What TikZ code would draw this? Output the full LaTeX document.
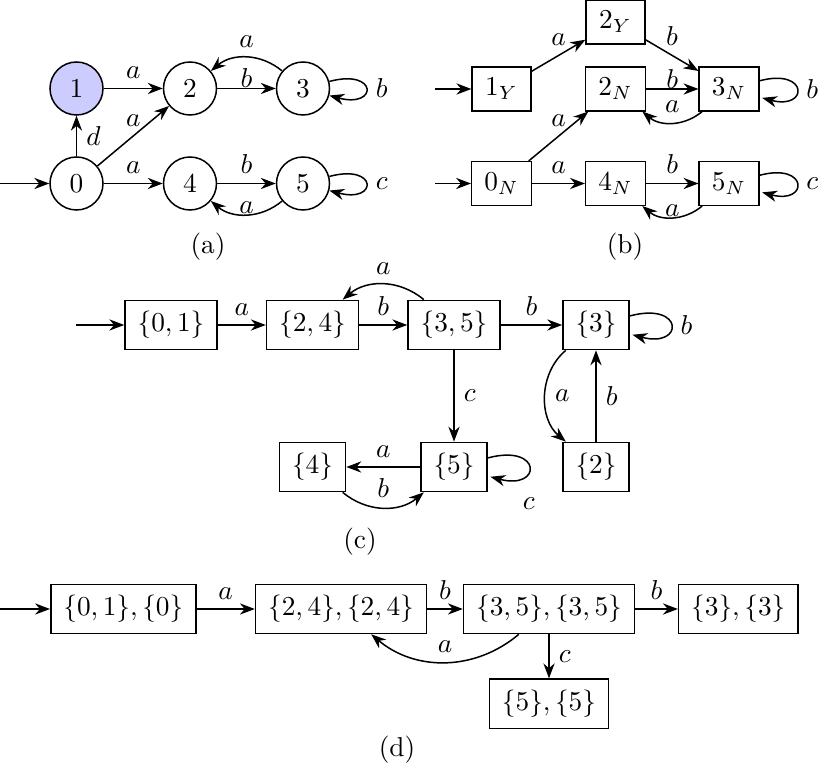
\documentclass[tikz,border=0pt]{standalone}
\usetikzlibrary{arrows.meta}
\colorlet{marked area}{blue!20}
\tikzset{circ/.style={circle, draw, minimum size=19.4pt, inner sep=0pt},
	marked/.style={circ, fill=marked area},
	box/.style={rectangle, draw, inner xsep=4.6pt, inner ysep=4pt, minimum width=21.5pt},
	tight/.style={above, inner sep=0pt},
	wide loop/.style={loop right, min distance=6.5mm}}

\begin{document}
\begin{tikzpicture}[x=0.366pt, y=-0.366pt, >=Stealth, line width=0.55pt]
		\useasboundingbox (0,0) rectangle (831,776);
		\node[circ] (a0) at (76.5,183.5) {$0$};
		\node[marked] (a1) at (76.5,88.5) {$1$};
		\node[circ] (a2) at (190,88.5) {$2$};
		\node[circ] (a3) at (303,88.5) {$3$};
		\node[circ] (a4) at (190,183.5) {$4$};
		\node[circ] (a5) at (303,183.5) {$5$};
		\coordinate (a in) at (0,183.5);
		\draw[->] (a in) -- (a0);
		\path[->] (a0) edge node[right] {$d$} (a1)
			(a0) edge node[above] {$a$} (a2)
			(a0) edge node[above] {$a$} (a4)
			(a1) edge node[above] {$a$} (a2)
			(a2) edge node[tight] {$b$} (a3)
			(a3) edge[bend right=40] node[above] {$a$} (a2)
			(a3) edge[wide loop] node[right] {$b$} (a3)
			(a4) edge node[above] {$b$} (a5)
			(a5) edge[bend left=40] node[tight] {$a$} (a4)
			(a5) edge[wide loop] node[right] {$c$} (a5);
		\node (cap a) at (208,247) {(a)};
		
		\node[box] (b1Y) at (501.5,89) {$1_Y$};
		\node[box] (b2Y) at (615.5,22) {$2_Y$};
		\node[box] (b2N) at (615.5,89) {$2_N$};
		\node[box] (b3N) at (729,89) {$3_N$};
		\node[box] (b0N) at (501.5,183.5) {$0_N$};
		\node[box] (b4N) at (615.5,183.5) {$4_N$};
		\node[box] (b5N) at (729,183.5) {$5_N$};
		\coordinate (b in1) at (435,89);
		\coordinate (b in0) at (435,183.5);
		\draw[->] (b in1) -- (b1Y);
		\draw[->] (b in0) -- (b0N);
		\path[->] (b1Y) edge node[above] {$a$} (b2Y)
			(b2Y) edge node[above] {$b$} (b3N)
			(b2N) edge node[tight] {$b$} (b3N)
			(b3N) edge[bend left=40] node[above] {$a$} (b2N)
			(b3N) edge[loop right] node[right] {$b$} ()
			(b0N) edge node[above] {$a$} (b2N)
			(b0N) edge node[above] {$a$} (b4N)
			(b4N) edge node[above] {$b$} (b5N)
			(b5N) edge[bend left=40] node[tight] {$a$} (b4N)
			(b5N) edge[loop right] node[right] {$c$} ();
		\node (cap b) at (625,247) {(b)};
		
		\node[box] (c01) at (171,325) {$\{0,1\}$};
		\node[box] (c24) at (312.5,325) {$\{2,4\}$};
		\node[box] (c35) at (454,325) {$\{3,5\}$};
		\node[box] (c3) at (596,325) {$\{3\}$};
		\node[box] (c5) at (454,467) {$\{5\}$};
		\node[box] (c2) at (596,467) {$\{2\}$};
		\node[box] (c4) at (312.5,467) {$\{4\}$};
		\coordinate (c in) at (76,325);
		\draw[->] (c in) -- (c01);
		\path[->] (c01) edge node[above] {$a$} (c24)
			(c24) edge node[above] {$b$} (c35)
			(c35) edge[bend right=40] node[above] {$a$} (c24)
			(c35) edge node[above] {$b$} (c3)
			(c35) edge node[right] {$c$} (c5)
			(c3) edge[loop right] node[right] {$b$} ()
			(c3) edge[bend right=50] node[right] {$a$} (c2)
			(c2) edge node[right] {$b$} (c3)
			(c5) edge node[above] {$a$} (c4)
			(c4) edge[bend right=40] node[above] {$b$} (c5)
			(c5) edge[loop right] node[below=7.5pt] {$c$} ();
		\node (cap c) at (360,542) {(c)};
		
		\node[box] (d01) at (123.3,609) {$\{0,1\},\{0\}$};
		\node[box] (d24) at (341,609) {$\{2,4\},\{2,4\}$};
		\node[box] (d35) at (549,609) {$\{3,5\},\{3,5\}$};
		\node[box] (d3) at (738.3,609) {$\{3\},\{3\}$};
		\node[box] (d5) at (549,703.7) {$\{5\},\{5\}$};
		\coordinate (d in) at (0,609);
		\draw[->] (d in) -- (d01);
		\path[->] (d01) edge node[above] {$a$} (d24)
			(d24) edge node[above] {$b$} (d35)
			(d35) edge node[above] {$b$} (d3)
			(d35) edge node[right] {$c$} (d5)
			(d35) edge[bend left=40] node[above] {$a$} (d24);
		\node (cap d) at (397,750) {(d)};
		\end{tikzpicture}
\end{document}
